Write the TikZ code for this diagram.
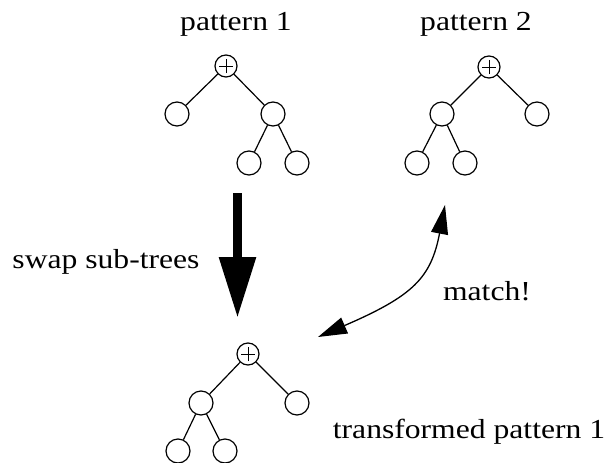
\documentclass[tikz,border=0pt]{standalone}
\usepackage{fontspec}
\setmainfont{Liberation Serif}[FakeStretch=1.15]
\usetikzlibrary{arrows.meta}
\begin{document}
\begin{tikzpicture}[x=1pt,y=-1pt,
  leaf/.style={circle,draw,line width=1.2pt,minimum size=24pt,inner sep=0pt},
  opnode/.style={circle,draw,line width=1.2pt,minimum size=22pt,inner sep=0pt},
  edge/.style={line width=1.2pt},
  plusbar/.style={line width=0.9pt},
  lbl/.style={anchor=base,inner sep=0pt,font=\fontsize{27.5}{31}\selectfont}]
\useasboundingbox (0,0) rectangle (608,463);

% pattern 1
\node[opnode] (p1r) at (226,66) {};
\node[leaf] (p1a) at (177,114) {};
\node[leaf] (p1b) at (273,114) {};
\node[leaf] (p1c) at (249,163) {};
\node[leaf] (p1d) at (297,163) {};
\draw[edge] (p1r) -- (p1a);
\draw[edge] (p1r) -- (p1b);
\draw[edge] (p1b) -- (p1c);
\draw[edge] (p1b) -- (p1d);

% pattern 2
\node[opnode] (p2r) at (489,67) {};
\node[leaf] (p2a) at (442,114) {};
\node[leaf] (p2b) at (537,114) {};
\node[leaf] (p2c) at (417,163) {};
\node[leaf] (p2d) at (465,163) {};
\draw[edge] (p2r) -- (p2a);
\draw[edge] (p2r) -- (p2b);
\draw[edge] (p2a) -- (p2c);
\draw[edge] (p2a) -- (p2d);

% transformed pattern 1
\node[opnode] (tr) at (248,354) {};
\node[leaf] (ta) at (201,403) {};
\node[leaf] (tb) at (297,403) {};
\node[leaf] (tc) at (178,451) {};
\node[leaf] (td) at (225,451) {};
\draw[edge] (tr) -- (ta);
\draw[edge] (tr) -- (tb);
\draw[edge] (ta) -- (tc);
\draw[edge] (ta) -- (td);

% plus signs inside the operator nodes
\foreach \r in {p1r,p2r,tr}{
  \draw[plusbar] ([xshift=-7pt]\r.center) -- ([xshift=7pt]\r.center);
  \draw[plusbar] ([yshift=-7pt]\r.center) -- ([yshift=7pt]\r.center);
}

% labels
\node[lbl] (l1) at (236,30) {pattern 1};
\node[lbl] (l2) at (476,30) {pattern 2};
\node[lbl] (l3) at (106,268) {swap sub-trees};
\node[lbl] (l4) at (487,300) {match!};
\node[lbl] (l5) at (469,438) {transformed pattern 1};

% swap arrow
\coordinate (s1) at (237.5,193);
\coordinate (s2) at (237.5,318);
\draw[line width=9pt,-{Triangle[length=61pt,width=35pt]}] (s1) -- (s2);

% match arrow
\coordinate (m1) at (445,205);
\coordinate (m2) at (318,337);
\draw[line width=1.3pt,{Triangle[length=29pt,width=17pt]}-{Triangle[length=29pt,width=17pt]}]
  (m1) .. controls (431,278) and (413,296) .. (m2);
\end{tikzpicture}
\end{document}
